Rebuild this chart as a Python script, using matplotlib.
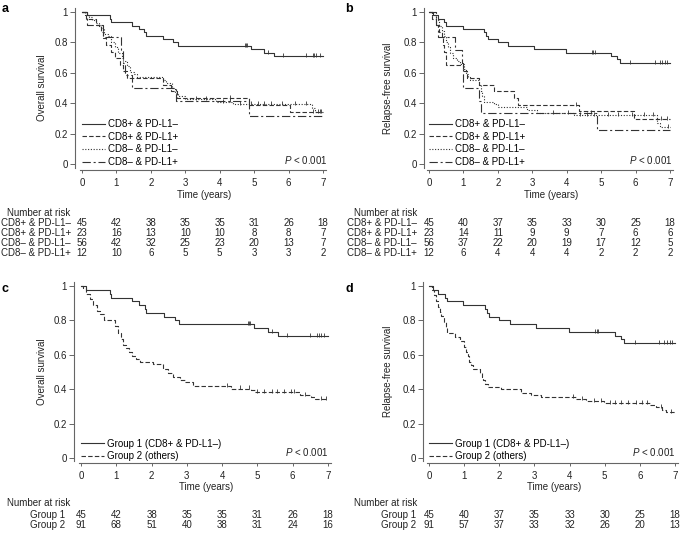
import numpy as np
import matplotlib
matplotlib.use('Agg')
import matplotlib.pyplot as plt
from matplotlib.transforms import blended_transform_factory

plt.rcParams['font.family'] = ['Liberation Sans', 'DejaVu Sans']
plt.rcParams['font.size'] = 7
plt.rcParams['mathtext.fontset'] = 'custom'
plt.rcParams['mathtext.it'] = 'Liberation Sans:italic'
plt.rcParams['mathtext.rm'] = 'Liberation Sans'
plt.rcParams['lines.scale_dashes'] = False

# ---- data ----
years = [0, 1, 2, 3, 4, 5, 6, 7]
groups4 = ['CD8+ & PD-L1\u2013', 'CD8+ & PD-L1+', 'CD8\u2013 & PD-L1\u2013', 'CD8\u2013 & PD-L1+']
groups2 = ['Group 1 (CD8+ & PD-L1\u2013)', 'Group 2 (others)']
rows2 = ['Group 1', 'Group 2']

# overall survival
os_g1_t = [0.15, 0.82, 0.85, 1.45, 1.65, 1.8, 1.85, 2.35, 2.65, 2.78, 4.9, 5.3, 5.58]
os_g1_s = [0.978, 0.956, 0.933, 0.911, 0.889, 0.867, 0.844, 0.822, 0.800, 0.778, 0.756, 0.733, 0.711]
os_g1_c = [4.72, 4.76, 4.8, 5.4, 5.85, 6.5, 6.7, 6.75, 6.8, 6.9]

os_g2_t = [0.05, 0.15, 0.25, 0.35, 0.45, 0.55, 0.65, 0.97, 1.05, 1.12, 1.2, 1.28, 1.35, 1.45, 1.55,
           1.67, 2.05, 2.33, 2.47, 2.6, 2.8, 2.94, 3.18, 4.26, 4.83, 4.92, 6.2, 6.53, 6.62]
os_g2_s = [0.989, 0.956, 0.923, 0.890, 0.857, 0.835, 0.802, 0.769, 0.725, 0.692, 0.659, 0.637, 0.615,
           0.593, 0.577, 0.560, 0.549, 0.516, 0.494, 0.473, 0.451, 0.440, 0.418, 0.404, 0.393, 0.382,
           0.369, 0.356, 0.343]
os_g2_c = [4.15, 4.5, 4.75, 5.0, 5.2, 5.4, 5.55, 5.75, 5.95, 6.05, 6.35, 6.8, 6.95]

os_pos_t = [0.12, 0.4, 0.55, 0.62, 0.7, 0.85, 0.95, 1.1, 1.2, 1.3, 2.35, 2.58, 2.75, 4.85, 6.05]
os_pos_s = [0.957, 0.913, 0.870, 0.826, 0.783, 0.739, 0.696, 0.652, 0.609, 0.565, 0.522, 0.478,
            0.435, 0.391, 0.342]
os_pos_c = [4.3, 6.7, 6.85, 6.95]

os_nn_t = [0.1, 0.2, 0.3, 0.4, 0.5, 0.55, 0.65, 0.75, 0.85, 0.95, 1.05, 1.15, 1.2, 1.3, 1.4, 1.5,
           1.6, 2.35, 2.45, 2.6, 2.7, 2.8, 3.0, 3.9, 4.4, 6.68, 6.78]
os_nn_s = [0.982, 0.964, 0.946, 0.929, 0.911, 0.893, 0.857, 0.839, 0.804, 0.768, 0.732, 0.696, 0.679,
           0.643, 0.607, 0.589, 0.571, 0.553, 0.536, 0.500, 0.464, 0.446, 0.425, 0.410, 0.394, 0.370,
           0.345]
os_nn_c = [3.3, 3.6, 4.1, 4.6, 4.9, 5.1, 5.3, 5.5, 5.8, 6.2, 6.5, 6.9]

os_np_t = [0.15, 0.6, 1.12, 1.2, 1.25, 1.45, 2.72, 4.85]
os_np_s = [0.917, 0.833, 0.750, 0.667, 0.583, 0.500, 0.417, 0.313]
os_np_c = [4.3]

# relapse-free survival
rfs_g1_t = [0.12, 0.25, 0.45, 0.5, 0.98, 1.6, 1.65, 1.72, 2.0, 2.3, 3.05, 3.98, 5.3, 5.45, 5.55]
rfs_g1_s = [0.978, 0.956, 0.933, 0.911, 0.889, 0.867, 0.844, 0.822, 0.800, 0.778, 0.756, 0.733,
            0.711, 0.689, 0.667]
rfs_g1_c = [4.72, 4.77, 4.82, 5.85, 6.55, 6.7, 6.78, 6.85, 6.92]

rfs_g2_t = [0.08, 0.15, 0.2, 0.26, 0.3, 0.35, 0.42, 0.48, 0.52, 0.73, 0.87, 1.0, 1.06, 1.1, 1.15,
            1.2, 1.25, 1.45, 1.5, 1.55, 1.6, 1.67, 2.05, 2.62, 2.9, 3.19, 4.18, 4.47, 4.99, 6.3,
            6.45, 6.64, 6.74]
rfs_g2_s = [0.978, 0.945, 0.912, 0.879, 0.846, 0.824, 0.791, 0.758, 0.725, 0.703, 0.681, 0.648,
            0.615, 0.593, 0.560, 0.538, 0.516, 0.495, 0.473, 0.451, 0.429, 0.413, 0.402, 0.380,
            0.369, 0.352, 0.341, 0.330, 0.319, 0.308, 0.297, 0.280, 0.268]
rfs_g2_c = [4.1, 4.35, 4.7, 4.9, 5.15, 5.3, 5.45, 5.65, 5.9, 6.05, 6.2, 6.6, 6.9]

rfs_pos_t = [0.1, 0.2, 0.3, 0.38, 0.42, 0.45, 0.48, 1.0, 1.1, 1.45, 1.9, 2.47, 2.58, 4.35, 5.95]
rfs_pos_s = [0.957, 0.913, 0.870, 0.826, 0.783, 0.739, 0.652, 0.609, 0.565, 0.522, 0.478, 0.435,
             0.391, 0.348, 0.298]
rfs_pos_c = [4.27, 6.75, 6.9]

rfs_nn_t = [0.1, 0.2, 0.3, 0.38, 0.45, 0.5, 0.55, 0.62, 0.7, 0.8, 0.9, 1.02, 1.07, 1.12, 1.2, 1.45,
            1.5, 1.55, 1.6, 1.9, 2.0, 2.85, 3.15, 4.2, 6.62, 6.72]
rfs_nn_s = [0.982, 0.946, 0.911, 0.875, 0.839, 0.804, 0.768, 0.732, 0.696, 0.679, 0.661, 0.625,
            0.589, 0.571, 0.554, 0.518, 0.482, 0.446, 0.411, 0.393, 0.375, 0.357, 0.337, 0.324,
            0.270, 0.243]
rfs_nn_c = [3.6, 4.05, 4.4, 4.6, 4.8, 5.2, 5.5, 5.9, 6.25, 6.5, 6.95]

rfs_np_t = [0.2, 0.25, 0.75, 0.95, 0.98, 1.0, 1.45, 1.5, 4.87]
rfs_np_s = [0.917, 0.833, 0.750, 0.667, 0.583, 0.500, 0.417, 0.333, 0.222]
rfs_np_c = [4.7]

# number at risk
nar_a = [[45, 42, 38, 35, 35, 31, 26, 18],
         [23, 16, 13, 10, 10, 8, 8, 7],
         [56, 42, 32, 25, 23, 20, 13, 7],
         [12, 10, 6, 5, 5, 3, 3, 2]]
nar_b = [[45, 40, 37, 35, 33, 30, 25, 18],
         [23, 14, 11, 9, 9, 7, 6, 6],
         [56, 37, 22, 20, 19, 17, 12, 5],
         [12, 6, 4, 4, 4, 2, 2, 2]]
nar_c = [[45, 42, 38, 35, 35, 31, 26, 18],
         [91, 68, 51, 40, 38, 31, 24, 16]]
nar_d = [[45, 40, 37, 35, 33, 30, 25, 18],
         [91, 57, 37, 33, 32, 26, 20, 13]]

# ---- figure ----
W, H = 682, 534
fig = plt.figure(figsize=(W / 100, H / 100), dpi=100)
LC = '#333333'
AC = '#666666'
TC = '#222222'
styles = ['-', (0, (3.2, 1.6)), (0, (0.8, 1.2)), (0, (6, 2, 1.5, 2))]


def px(x, y):
    return x / W, 1 - y / H


def make_ax(x0, x7, y1, y0, sl, sb):
    left, right, top, bottom = x0 - 2, x7 + 3, y1 - 4, sb - 2
    ax = fig.add_axes([left / W, 1 - bottom / H, (right - left) / W, (bottom - top) / H])
    k = (x7 - x0) / 7
    m = (y0 - y1)
    ax.set_xlim((left - x0) / k, (right - x0) / k)
    ax.set_ylim((y0 - bottom) / m, (y0 - top) / m)
    for s in ['top', 'right']:
        ax.spines[s].set_visible(False)
    ax.spines['left'].set_position(('outward', (left - sl) * 0.72))
    ax.spines['bottom'].set_position(('outward', (sb - bottom) * 0.72))
    for s in ['left', 'bottom']:
        ax.spines[s].set_color(AC)
        ax.spines[s].set_linewidth(0.8)
    ax.set_xticks(years)
    ax.set_yticks([0, 0.2, 0.4, 0.6, 0.8, 1])
    ax.set_yticklabels(['0', '0.2', '0.4', '0.6', '0.8', '1'])
    ax.tick_params(axis='x', length=2.2, width=0.7, color=AC, pad=3.6, labelcolor=TC)
    ax.tick_params(axis='y', length=3.5, width=0.7, color=AC, pad=1.8, labelcolor=TC)
    ax.patch.set_visible(False)
    return ax


def km(ax, t, s, cens, ls, label):
    tt = np.r_[0, t, 7.0]
    ss = np.r_[1, s, s[-1]]
    ax.step(tt, ss, where='post', color=LC, lw=0.8, ls=ls, label=label)
    cy = [ss[np.searchsorted(tt, c, side='right') - 1] for c in cens]
    ax.plot(cens, np.array(cy) + 0.006, ls='none', marker='|', ms=3.5, mew=0.6, color=LC)


def finish(ax, ylabel, pxy, ylab_axes):
    ax.yaxis.set_label_coords(ylab_axes, 0.5)
    ax.set_ylabel(ylabel, color=TC)
    ax.text(pxy[0], pxy[1], r'$P$ < 0.001', ha='right', va='center', color=TC)
    ax.legend(loc='lower left', bbox_to_anchor=(0, -0.02), bbox_transform=ax.transData,
              frameon=False, borderpad=0, borderaxespad=0, handlelength=2.35,
              handletextpad=0.3, labelspacing=0.27)


def risk_table(ax, time_y, head_x, head_y, row_x, rows_y, labels, table):
    tr = blended_transform_factory(ax.transData, fig.transFigure)
    ax.text(3.55, 1 - time_y / H, 'Time (years)', transform=tr, ha='center', va='center', color=TC)
    fig.text(*px(head_x, head_y), 'Number at risk', ha='left', va='center', color=TC)
    for lab, vals, yy in zip(labels, table, rows_y):
        fig.text(*px(row_x, yy), lab, ha='left', va='center', color=TC)
        for x, v in zip(years, vals):
            ax.text(x, 1 - yy / H, str(v), transform=tr, ha='center', va='center', color=TC)


# panel a
axa = make_ax(82, 323, 12, 164, 75, 170)
km(axa, os_g1_t, os_g1_s, os_g1_c, styles[0], groups4[0])
km(axa, os_pos_t, os_pos_s, os_pos_c, styles[1], groups4[1])
km(axa, os_nn_t, os_nn_s, os_nn_c, styles[2], groups4[2])
km(axa, os_np_t, os_np_s, os_np_c, styles[3], groups4[3])
finish(axa, 'Overall survival', (7.12, 0.026), (47 - 80) / 248)
risk_table(axa, 195, 7, 213, 1, [223, 233, 243, 253], groups4, nar_a)

# panel b
axb = make_ax(429, 670, 12, 164, 424, 170)
km(axb, rfs_g1_t, rfs_g1_s, rfs_g1_c, styles[0], groups4[0])
km(axb, rfs_pos_t, rfs_pos_s, rfs_pos_c, styles[1], groups4[1])
km(axb, rfs_nn_t, rfs_nn_s, rfs_nn_c, styles[2], groups4[2])
km(axb, rfs_np_t, rfs_np_s, rfs_np_c, styles[3], groups4[3])
finish(axb, 'Relapse-free survival', (7.08, 0.026), (393 - 427) / 246)
risk_table(axb, 195, 354, 213, 347, [223, 233, 243, 253], groups4, nar_b)

# panel c
axc = make_ax(81, 328, 286, 458, 74, 463)
km(axc, os_g1_t, os_g1_s, os_g1_c, styles[0], groups2[0])
km(axc, os_g2_t, os_g2_s, os_g2_c, styles[1], groups2[1])
finish(axc, 'Overall survival', (7.0, 0.037), (47 - 79) / 252)
risk_table(axc, 487, 7, 503, 30, [515, 525], rows2, nar_c)

# panel d
axd = make_ax(429, 675, 286, 458, 423, 463)
km(axd, rfs_g1_t, rfs_g1_s, rfs_g1_c, styles[0], groups2[0])
km(axd, rfs_g2_t, rfs_g2_s, rfs_g2_c, styles[1], groups2[1])
finish(axd, 'Relapse-free survival', (7.0, 0.037), (393 - 427) / 251)
risk_table(axd, 487, 354, 503, 381, [515, 525], rows2, nar_d)

for lab, (x, y) in zip('abcd', [(2, 9), (345, 9), (2, 289), (345, 289)]):
    fig.text(*px(x, y), lab, fontsize=9, fontweight='bold', ha='left', va='center')

fig.savefig('out.png', dpi=100)
